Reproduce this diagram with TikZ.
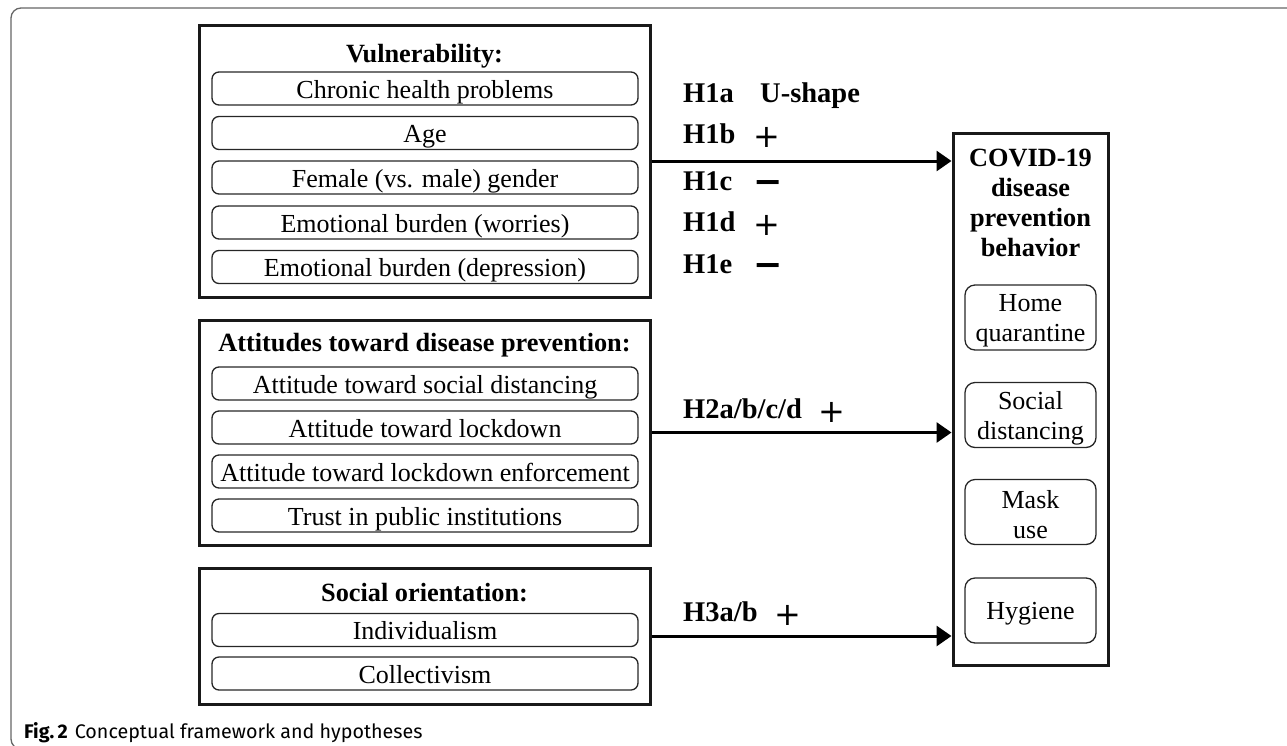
\documentclass[tikz,border=0pt]{standalone}
\usepackage{fontspec}
\setmainfont{Liberation Serif}
\newfontfamily\capfont{Fira Sans}
\newfontfamily\sgnfont{DejaVu Sans}
\usetikzlibrary{arrows.meta}
\begin{document}
\begin{tikzpicture}[x=1pt,y=-1pt,
  txt/.style={font=\fontsize{26}{30}\selectfont},
  btxt/.style={font=\fontsize{26.3}{30}\selectfont\bfseries},
  fixv/.style={text height=19pt, text depth=0pt},
  grp/.style={draw=black!90, line width=3pt, inner sep=0pt},
  item/.style={txt, fixv, draw=black!85, line width=1.3pt, rounded corners=7pt, minimum width=426pt, minimum height=33pt, inner sep=0pt},
  sub/.style={draw=black!85, line width=1.3pt, rounded corners=10pt, minimum width=131pt, minimum height=65pt, inner sep=0pt},
  subt/.style={txt, align=center, inner sep=0pt},
  ttl/.style={btxt, fixv, inner sep=0pt},
  lbl/.style={font=\fontsize{28.5}{32}\selectfont\bfseries, fixv, anchor=west, inner sep=0pt},
  sgn/.style={font=\fontsize{32}{36}\sgnfont, inner sep=0pt},
  msgn/.style={font=\fontsize{35}{38}\sgnfont\bfseries, inner sep=0pt},
  arr/.style={line width=3pt, -{Triangle[length=15pt,width=20pt]}}]
\clip (0,0) rectangle (1287,745);
% outer frame
\draw[black!60, line width=1.3pt, rounded corners=10pt] (11,8) rectangle (1310,749);
% groups
\node[grp, minimum width=451pt, minimum height=272pt] (g1) at (424.5,161) {};
\node[grp, minimum width=451pt, minimum height=225pt] (g2) at (424.5,432.5) {};
\node[grp, minimum width=451pt, minimum height=136pt] (g3) at (424.5,636) {};
\node[grp, minimum width=155pt, minimum height=532pt] (cov) at (1030.5,399) {};
% group 1
\node[ttl] (t1) at (424.5,52.5) {Vulnerability:};
\node[item] (v1) at (425,88.5) {Chronic health problems};
\node[item] (v2) at (425,133) {Age};
\node[item] (v3) at (425,177.5) {Female (vs. male) gender};
\node[item] (v4) at (425,222.5) {Emotional burden (worries)};
\node[item] (v5) at (425,267) {Emotional burden (depression)};
% group 2
\node[ttl] (t2) at (424.5,342) {Attitudes toward disease prevention:};
\node[item] (a1) at (425,383.5) {Attitude toward social distancing};
\node[item] (a2) at (425,427.5) {Attitude toward lockdown};
\node[item] (a3) at (425,471.5) {Attitude toward lockdown enforcement};
\node[item] (a4) at (425,515.5) {Trust in public institutions};
% group 3
\node[ttl] (t3) at (424.5,592) {Social orientation:};
\node[item] (s1) at (425,630) {Individualism};
\node[item] (s2) at (425,673.5) {Collectivism};
% outcome
\node[btxt, align=center, inner sep=0pt] (ct) at (1030.5,203) {COVID-19\\disease\\prevention\\behavior};
\node[sub] (b1) at (1030.5,317.5) {};
\node[subt] (b1t) at ([yshift=-3pt]b1.center) {Home\\quarantine};
\node[sub] (b2) at (1030.5,415) {};
\node[subt] (b2t) at ([yshift=-3pt]b2.center) {Social\\distancing};
\node[sub] (b3) at (1030.5,512) {};
\node[subt] (b3t) at ([yshift=-3pt]b3.center) {Mask\\use};
\node[sub] (b4) at (1030.5,610.5) {};
\node[subt, fixv] (b4t) at ([yshift=1pt]b4.center) {Hygiene};
% arrows
\draw[arr] (g1.east) -- (g1.east -| cov.west);
\draw[arr] (g2.east) -- (g2.east -| cov.west);
\draw[arr] (g3.east) -- (g3.east -| cov.west);
% labels
\node[lbl] (h1a) at (683,92.5) {H1a};
\node[lbl] (us) at (760,92.5) {U-shape};
\node[lbl] (h1b) at (683,134) {H1b};
\node[sgn] (p1b) at (767,137) {+};
\node[lbl] (h1c) at (683,181) {H1c};
\node[msgn] (m1c) at (768,187) {−};
\node[lbl] (h1d) at (683,222) {H1d};
\node[sgn] (p1d) at (767,225) {+};
\node[lbl] (h1e) at (683,264) {H1e};
\node[msgn] (m1e) at (768,270) {−};
\node[lbl] (h2) at (683,409) {H2a/b/c/d};
\node[sgn] (p2) at (832,412) {+};
\node[lbl] (h3) at (683,612) {H3a/b};
\node[sgn] (p3) at (788,615) {+};
% caption
\node[anchor=base west, inner sep=0pt] (cap) at (24,738) {\capfont\fontsize{19.7}{22}\selectfont\textbf{Fig.\,2}\hspace{7pt}Conceptual framework and hypotheses};
\end{tikzpicture}
\end{document}
